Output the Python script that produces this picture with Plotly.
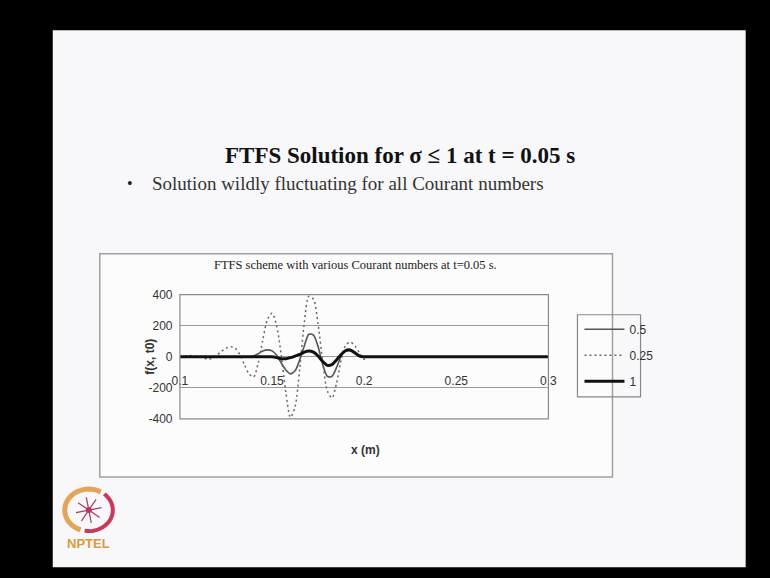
import math
import plotly.graph_objects as go

W, H = 770, 578

# ---- data ----
x_vals = [0.1000, 0.1025, 0.1050, 0.1075, 0.1100, 0.1125, 0.1150, 0.1175, 0.1200, 0.1225,
          0.1250, 0.1275, 0.1300, 0.1325, 0.1350, 0.1375, 0.1400, 0.1425, 0.1450, 0.1475,
          0.1500, 0.1525, 0.1550, 0.1575, 0.1600, 0.1625, 0.1650, 0.1675, 0.1700, 0.1725,
          0.1750, 0.1775, 0.1800, 0.1825, 0.1850, 0.1875, 0.1900, 0.1925, 0.1950, 0.1975,
          0.2000, 0.2025, 0.2050, 0.2500, 0.3000]

f_sigma_05 = [0, 0, 0, 0, 0, 0, 0, 0, 0, 0,
              0, 0, 0, 0, 0, 0, 5, 20, 38, 45,
              38, 10, -40, -85, -110, -90, -20, 70, 145, 140,
              65, -50, -125, -125, -70, 5, 45, 48, 30, 10,
              0, 0, 0, 0, 0]

f_sigma_025 = [0, 5, 8, 5, 0, -5, -15, -10, 10, 35,
               55, 65, 55, 15, -50, -110, -130, -40, 110, 240,
               280, 200, 10, -230, -390, -320, -80, 220, 390, 370,
               210, -30, -220, -265, -170, -20, 75, 95, 70, 25,
               -15, 0, 0, 0, 0]

f_sigma_1 = [0, 0, 0, 0, 0, 0, 0, 0, 0, 0,
             0, 0, 0, 0, 0, 0, 0, 0, 0, 0,
             0, -5, -12, -12, -5, 5, 15, 30, 38, 30,
             5, -30, -55, -50, -20, 15, 40, 42, 25, 5,
             0, 0, 0, 0, 0]

x_ticks = [0.1, 0.15, 0.2, 0.25, 0.3]
x_ticktext = ["0.1", "0.15", "0.2", "0.25", "0.3"]
y_ticks = [-400, -200, 0, 200, 400]
y_ticktext = ["-400", "-200", "0", "200", "400"]

series_names = ["0.5", "0.25", "1"]

# ---- geometry: target screen pixels -> paper fractions
# (the page, with its body margin, is shown slightly reduced in the photograph)
OX, SX = 16.3, 0.9766
OY, SY = 14.8, 0.974

def px(xp):
    return ((xp - OX) / SX) / W

def py(yp):
    return 1 - ((yp - OY) / SY) / H

plot_l, plot_r, plot_t, plot_b = 180, 548, 294, 418
zero_y = 356

fig = go.Figure()

fig.add_trace(go.Scatter(x=x_vals, y=f_sigma_05, name=series_names[0], mode="lines",
                         line=dict(color="#555555", width=1.6, shape="spline", smoothing=0.8),
                         legendgroup="a"))
fig.add_trace(go.Scatter(x=x_vals, y=f_sigma_025, name=series_names[1], mode="lines",
                         line=dict(color="#666666", width=1.5, dash="2px,3px", shape="spline", smoothing=0.8),
                         legendgroup="b"))
fig.add_trace(go.Scatter(x=x_vals, y=f_sigma_1, name=series_names[2], mode="lines",
                         line=dict(color="#111111", width=3, shape="spline", smoothing=0.8),
                         legendgroup="c"))

axis_font = dict(family="Liberation Sans, Arial, sans-serif", size=12, color="#333333")

fig.update_layout(
    width=W, height=H,
    autosize=False,
    margin=dict(l=0, r=0, t=0, b=0),
    paper_bgcolor="black",
    plot_bgcolor="rgba(0,0,0,0)",
    showlegend=True,
    legend=dict(
        x=px(579), y=py(314), xanchor="left", yanchor="top",
        bgcolor="rgba(0,0,0,0)", borderwidth=0,
        font=dict(family="Liberation Sans, Arial, sans-serif", size=12, color="#333333"),
        tracegroupgap=7, itemwidth=40,
    ),
    xaxis=dict(
        domain=[px(plot_l), px(plot_r)], range=[0.1, 0.3],
        anchor="free", position=py(zero_y),
        tickvals=x_ticks, ticktext=x_ticktext,
        showgrid=False, zeroline=False, showline=False,
        ticks="outside", ticklen=13, tickcolor="rgba(0,0,0,0)",
        tickfont=axis_font,
    ),
    yaxis=dict(
        domain=[py(plot_b), py(plot_t)], range=[-400, 400],
        anchor="free", position=px(plot_l),
        tickvals=y_ticks, ticktext=y_ticktext,
        showgrid=True, gridcolor="#9a9a9a", gridwidth=1,
        zeroline=False, showline=False,
        ticks="outside", ticklen=5, tickcolor="rgba(0,0,0,0)",
        tickfont=axis_font,
    ),
)


def arc_path(cx, cy, rx, ry, a0, a1, n=24):
    pts = []
    for i in range(n + 1):
        a = math.radians(a0 + (a1 - a0) * i / n)
        pts.append((px(cx + rx * math.cos(a)), py(cy - ry * math.sin(a))))
    return "M " + " L ".join(f"{x:.5f},{y:.5f}" for x, y in pts)


logo_cx, logo_cy = 89, 509
shapes = [
    # slide
    dict(type="rect", xref="paper", yref="paper", x0=px(53), x1=px(745), y0=py(566), y1=py(30),
         fillcolor="#f8f8fa", line=dict(width=0), layer="below"),
    # chart box
    dict(type="rect", xref="paper", yref="paper", x0=px(100), x1=px(612), y0=py(476), y1=py(253),
         fillcolor="#fcfcfc", line=dict(color="#a0a0a0", width=1.5), layer="below"),
    # plot area border
    dict(type="rect", xref="x domain", yref="y domain", x0=0, x1=1, y0=0, y1=1,
         line=dict(color="#8a8a8a", width=1.2), layer="above"),
    # legend box
    dict(type="rect", xref="paper", yref="paper", x0=px(577), x1=px(640), y0=py(396), y1=py(314),
         fillcolor="rgba(0,0,0,0)", line=dict(color="#888888", width=1.2), layer="above"),
    # NPTEL logo approximation: orange and crimson arcs
    dict(type="path", xref="paper", yref="paper", path=arc_path(logo_cx, logo_cy, 24, 21, 60, 250),
         line=dict(color="#e3a55a", width=5)),
    dict(type="path", xref="paper", yref="paper", path=arc_path(logo_cx, logo_cy, 24, 21, -100, 50),
         line=dict(color="#c83a5a", width=4)),
]
# star spokes of the logo
for k in range(8):
    a = math.radians(k * 45 + 11)
    shapes.append(dict(type="line", xref="paper", yref="paper",
                       x0=px(logo_cx), y0=py(logo_cy),
                       x1=px(logo_cx + 13 * math.cos(a)), y1=py(logo_cy - 13 * math.sin(a)),
                       line=dict(color="#a04060", width=1.2)))
shapes.append(dict(type="circle", xref="paper", yref="paper",
                   x0=px(logo_cx - 3), x1=px(logo_cx + 3), y0=py(logo_cy + 3), y1=py(logo_cy - 3),
                   fillcolor="#c03060", line=dict(width=0)))
fig.update_layout(shapes=shapes)

annotations = [
    dict(text="<b>FTFS Solution for σ ≤ 1 at t = 0.05 s</b>", x=px(400), y=py(155),
         font=dict(family="Liberation Serif, Times New Roman, serif", size=23, color="#111111")),
    dict(text="•", x=px(130), y=py(183),
         font=dict(family="Liberation Serif, Times New Roman, serif", size=16, color="#222222")),
    dict(text="Solution wildly fluctuating for all Courant numbers", x=px(150), y=py(183), xanchor="left",
         font=dict(family="Liberation Serif, Times New Roman, serif", size=19, color="#333333")),
    dict(text="FTFS scheme with various Courant numbers at t=0.05 s.", x=px(355), y=py(264),
         font=dict(family="Liberation Serif, Times New Roman, serif", size=12.5, color="#222222")),
    dict(text="<b>f(x, t0)</b>", x=px(150), y=py(356), textangle=-90,
         font=dict(family="Liberation Sans, Arial, sans-serif", size=12, color="#333333")),
    dict(text="<b>x (m)</b>", x=px(365), y=py(449),
         font=dict(family="Liberation Sans, Arial, sans-serif", size=12, color="#333333")),
    dict(text="<b>NPTEL</b>", x=px(89), y=py(542),
         font=dict(family="Liberation Sans, Arial, sans-serif", size=13, color="#dc9a3c")),
]
for a in annotations:
    a.update(xref="paper", yref="paper", showarrow=False)
    a.setdefault("xanchor", "center")
    a.setdefault("yanchor", "middle")
fig.update_layout(annotations=annotations)

fig.write_html(
    "out.html",
    config={"displayModeBar": False, "responsive": False},
    post_script=(
        "document.documentElement.style.background='black';"
        "document.body.style.background='black';"
    ),
)
